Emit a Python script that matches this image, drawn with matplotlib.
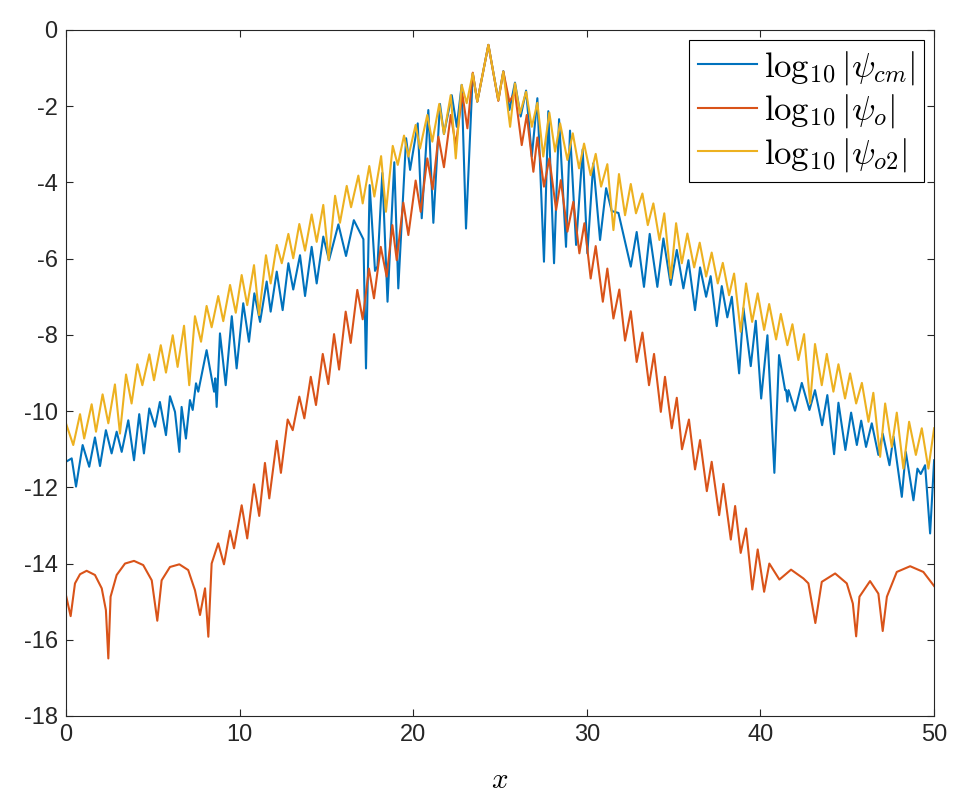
import matplotlib
matplotlib.use("Agg")
import matplotlib.pyplot as plt

plt.rcParams['font.family'] = ['Liberation Sans', 'DejaVu Sans']
plt.rcParams['mathtext.fontset'] = 'cm'
plt.rcParams['axes.unicode_minus'] = False

# values: alternating arch tops and cusps
o2_x = [0.0, 0.42, 0.81, 1.05, 1.48, 1.73, 2.11, 2.44, 2.82, 3.11, 3.46, 3.78, 4.11, 4.40,
        4.80, 5.07, 5.46, 5.76, 6.15, 6.43, 6.80, 7.10, 7.43, 7.78, 8.10, 8.39, 8.77, 9.06,
        9.45, 9.78, 10.12, 10.44, 10.83, 11.12, 11.52, 11.79, 12.14, 12.43, 12.81, 13.09,
        13.44, 13.77, 14.15, 14.44, 14.82, 15.13, 15.50, 15.78, 16.17, 16.42, 16.84, 17.09,
        17.47, 17.76, 18.15, 18.43, 18.82, 19.11, 19.47, 19.72, 20.14, 20.39, 20.81, 21.10,
        21.50, 21.77, 22.16, 22.45, 22.79, 23.08, 23.43, 23.69, 24.33, 24.90, 25.19, 25.58,
        25.86, 26.15, 26.50, 26.83, 27.15, 27.49, 27.84, 28.17, 28.46, 28.88, 29.19, 29.55,
        29.84, 30.22, 30.51, 30.82, 31.18, 31.53, 31.85, 32.20, 32.53, 32.83, 33.20, 33.51,
        33.83, 34.18, 34.46, 34.83, 35.14, 35.47, 35.79, 36.18, 36.50, 36.87, 37.19, 37.54,
        37.83, 38.19, 38.48, 38.86, 39.17, 39.52, 39.84, 40.21, 40.50, 40.90, 41.17, 41.55,
        41.84, 42.18, 42.51, 42.86, 43.14, 43.53, 43.82, 44.20, 44.49, 44.87, 45.16, 45.51,
        45.84, 46.22, 46.50, 46.89, 47.18, 47.56, 47.85, 48.23, 48.56, 48.95, 49.29, 49.67,
        50.0]
o2_y = [-10.32, -10.89, -10.08, -10.72, -9.82, -10.54, -9.56, -10.32, -9.30, -10.59, -9.04,
        -9.80, -8.77, -9.32, -8.51, -9.19, -8.27, -8.99, -8.01, -8.84, -7.76, -9.32, -7.51,
        -8.18, -7.24, -7.80, -6.98, -7.64, -6.69, -7.42, -6.43, -7.22, -6.17, -7.48, -5.91,
        -6.65, -5.64, -6.12, -5.35, -5.99, -5.09, -5.79, -4.84, -5.56, -4.59, -6.04, -4.35,
        -5.06, -4.09, -4.65, -3.82, -4.55, -3.57, -4.37, -3.31, -4.77, -3.04, -3.54, -2.77,
        -3.32, -2.49, -3.11, -2.23, -2.93, -1.94, -2.73, -1.71, -3.37, -1.44, -1.92, -1.14,
        -1.88, -0.39, -1.84, -1.09, -2.54, -1.40, -2.19, -1.62, -2.54, -1.91, -3.32, -2.17,
        -3.19, -2.45, -3.41, -2.71, -3.63, -2.98, -3.81, -3.25, -4.11, -3.52, -5.25, -3.78,
        -4.86, -4.04, -4.81, -4.29, -5.12, -4.55, -5.51, -4.81, -6.52, -5.07, -6.12, -5.34,
        -6.23, -5.58, -6.47, -5.84, -6.65, -6.11, -6.96, -6.39, -7.92, -6.65, -7.66, -6.91,
        -7.87, -7.19, -8.12, -7.45, -8.27, -7.72, -8.66, -7.98, -9.80, -8.24, -9.32, -8.50,
        -9.49, -8.77, -9.67, -9.01, -9.80, -9.26, -10.28, -9.52, -11.20, -9.80, -10.94,
        -10.04, -11.51, -10.28, -11.15, -10.45, -11.51, -10.45]

cm_x = [0.0, 0.33, 0.58, 0.96, 1.34, 1.67, 1.96, 2.30, 2.63, 2.92, 3.21, 3.59, 3.92, 4.22,
        4.49, 4.80, 5.13, 5.41, 5.76, 5.99, 6.28, 6.53, 6.66, 6.91, 7.14, 7.30, 7.49, 7.62,
        8.10, 8.53, 8.60, 8.68, 8.87, 9.20, 9.55, 9.83, 10.21, 10.54, 10.85, 11.18, 11.56,
        11.79, 12.14, 12.48, 12.81, 13.09, 13.48, 13.77, 14.15, 14.44, 14.82, 15.15, 15.69,
        16.13, 16.58, 17.13, 17.28, 17.49, 17.80, 17.94, 18.22, 18.52, 18.91, 19.14, 19.59,
        19.82, 20.26, 20.49, 20.87, 21.16, 21.54, 21.77, 22.22, 22.51, 22.79, 23.04, 23.43,
        23.69, 24.33, 24.90, 25.19, 25.54, 25.86, 26.19, 26.50, 26.83, 27.15, 27.53, 27.78,
        28.11, 28.40, 28.80, 29.03, 29.38, 29.76, 30.03, 30.37, 30.76, 31.11, 31.43, 31.82,
        32.53, 32.87, 33.29, 33.62, 34.06, 34.41, 34.83, 35.18, 35.56, 35.85, 36.23, 36.52,
        36.87, 37.13, 37.48, 37.77, 38.09, 38.35, 38.77, 39.02, 39.44, 39.73, 40.04, 40.40,
        40.80, 41.07, 41.42, 41.48, 41.55, 41.62, 41.99, 42.38, 42.82, 43.14, 43.55, 43.85,
        44.24, 44.49, 44.89, 45.22, 45.55, 45.80, 46.08, 46.41, 46.79, 47.04, 47.43, 47.66,
        48.14, 48.37, 48.81, 49.04, 49.23, 49.48, 49.77, 50.0]
cm_y = [-11.33, -11.24, -11.98, -10.89, -11.46, -10.69, -11.44, -10.50, -11.11, -10.54,
        -11.07, -10.24, -11.29, -10.08, -11.11, -9.93, -10.41, -9.76, -10.63, -9.61, -10.02,
        -11.07, -9.89, -10.72, -9.71, -9.97, -9.27, -9.49, -8.40, -9.49, -9.14, -9.89, -7.96,
        -9.32, -7.51, -8.88, -7.17, -8.18, -6.91, -7.66, -6.60, -7.39, -6.34, -7.35, -6.12,
        -6.81, -5.91, -6.98, -5.69, -6.65, -5.42, -6.04, -5.10, -5.93, -4.99, -5.49, -8.88,
        -4.07, -6.32, -6.20, -3.75, -7.13, -3.47, -6.78, -2.84, -3.67, -2.45, -4.94, -2.10,
        -5.06, -1.94, -2.73, -1.71, -2.54, -1.44, -5.21, -1.14, -1.88, -0.39, -1.84, -1.08,
        -2.10, -1.38, -2.27, -1.59, -3.32, -1.79, -6.08, -2.13, -6.12, -2.34, -5.69, -2.64,
        -5.64, -3.13, -5.86, -3.50, -5.51, -4.15, -4.75, -4.80, -6.21, -5.30, -6.74, -5.35,
        -6.74, -5.47, -6.69, -5.77, -6.78, -6.04, -7.35, -6.23, -7.00, -6.46, -7.77, -6.72,
        -7.54, -7.00, -9.01, -7.30, -8.82, -7.63, -9.67, -8.01, -11.62, -8.53, -9.45, -9.45,
        -9.75, -9.45, -9.99, -9.26, -9.97, -9.45, -10.37, -9.58, -11.13, -9.78, -11.02,
        -10.04, -10.89, -10.25, -10.94, -10.32, -11.15, -10.59, -11.42, -10.67, -12.25,
        -11.07, -12.34, -11.51, -11.65, -11.42, -13.21, -11.29]

o_x = [0.0, 0.27, 0.52, 0.81, 1.19, 1.67, 2.06, 2.30, 2.44, 2.57, 2.92, 3.40, 3.92, 4.45,
       4.94, 5.26, 5.51, 5.99, 6.53, 7.04, 7.43, 7.72, 8.01, 8.20, 8.39, 8.77, 9.10, 9.45,
       9.68, 10.12, 10.44, 10.83, 11.13, 11.46, 11.71, 12.14, 12.38, 12.77, 13.06, 13.44,
       13.73, 14.10, 14.40, 14.79, 15.11, 15.44, 15.73, 16.11, 16.40, 16.78, 17.09, 17.45,
       17.74, 18.13, 18.47, 18.80, 19.05, 19.43, 19.72, 20.14, 20.43, 20.81, 21.12, 21.45,
       21.77, 22.16, 22.45, 22.83, 23.12, 23.43, 23.69, 24.33, 24.90, 25.19, 25.54, 25.86,
       26.25, 26.54, 26.92, 27.15, 27.53, 27.84, 28.23, 28.50, 28.88, 29.22, 29.57, 29.86,
       30.22, 30.51, 30.92, 31.18, 31.53, 31.87, 32.20, 32.53, 32.87, 33.20, 33.58, 33.87,
       34.26, 34.50, 34.89, 35.18, 35.48, 35.88, 36.23, 36.52, 36.91, 37.19, 37.62, 37.86,
       38.29, 38.54, 38.86, 39.17, 39.53, 39.84, 40.21, 40.51, 41.09, 41.76, 42.47, 42.76,
       43.16, 43.53, 44.30, 44.97, 45.32, 45.51, 45.70, 46.31, 46.79, 47.04, 47.28, 47.85,
       48.62, 49.38, 50.0]
o_y = [-14.83, -15.38, -14.52, -14.28, -14.19, -14.30, -14.65, -15.22, -16.49, -14.87,
       -14.30, -14.00, -13.93, -14.04, -14.44, -15.50, -14.44, -14.09, -14.02, -14.17,
       -14.70, -15.35, -14.65, -15.92, -14.00, -13.47, -14.02, -13.14, -13.60, -12.47,
       -13.34, -11.92, -12.75, -11.36, -12.29, -10.78, -11.62, -10.22, -10.50, -9.62,
       -10.19, -9.10, -9.84, -8.50, -9.29, -7.98, -8.91, -7.39, -8.21, -6.82, -7.59, -6.26,
       -7.04, -5.69, -6.47, -5.12, -6.04, -4.53, -5.38, -3.95, -4.77, -3.37, -4.18, -2.80,
       -3.60, -2.23, -3.02, -1.68, -2.58, -1.12, -1.88, -0.39, -1.86, -1.09, -1.88, -1.64,
       -3.02, -2.23, -3.72, -2.82, -4.11, -3.37, -4.72, -3.94, -5.29, -4.51, -5.86, -5.07,
       -6.52, -5.67, -7.13, -6.26, -7.57, -6.81, -8.15, -7.38, -8.71, -7.94, -9.32, -8.50,
       -10.02, -9.10, -10.45, -9.65, -11.00, -10.22, -11.53, -10.76, -12.10, -11.33, -12.73,
       -11.91, -13.37, -12.49, -13.72, -13.08, -14.68, -13.63, -14.74, -14.00, -14.42,
       -14.16, -14.39, -14.52, -15.56, -14.48, -14.26, -14.52, -15.05, -15.91, -14.87,
       -14.46, -14.79, -15.77, -14.87, -14.22, -14.07, -14.22, -14.59]

labels = [r'$\log_{10}|\psi_{cm}|$', r'$\log_{10}|\psi_{o}|$', r'$\log_{10}|\psi_{o2}|$']
colors = ['#0072BD', '#D95319', '#EDB120']

fig = plt.figure(figsize=(9.7, 8), dpi=100)
ax = fig.add_axes([0.068, 0.105, 0.895, 0.8575])

ax.plot(cm_x, cm_y, color=colors[0], lw=1.5, label=labels[0])
ax.plot(o_x, o_y, color=colors[1], lw=1.5, label=labels[1])
ax.plot(o2_x, o2_y, color=colors[2], lw=1.5, label=labels[2])

ax.set_xlim(0, 50)
ax.set_ylim(-18, 0)
ax.set_xticks(range(0, 51, 10))
ax.set_yticks(range(-18, 1, 2))
ax.tick_params(direction='in', length=5, width=0.8, top=True, right=True,
               labelsize=17, colors='#262626', pad=6)
for s in ax.spines.values():
    s.set_color('#262626')
    s.set_linewidth(0.8)
ax.set_xlabel(r'$x$', fontsize=21, labelpad=14)

leg = ax.legend(loc='upper right', fontsize=25, frameon=True, fancybox=False,
                edgecolor='black', framealpha=1, handlelength=1.7, handletextpad=0.2,
                labelspacing=0.15, borderpad=0.25, borderaxespad=0.3)
leg.get_frame().set_linewidth(0.8)

fig.savefig('out.png', dpi=100)
